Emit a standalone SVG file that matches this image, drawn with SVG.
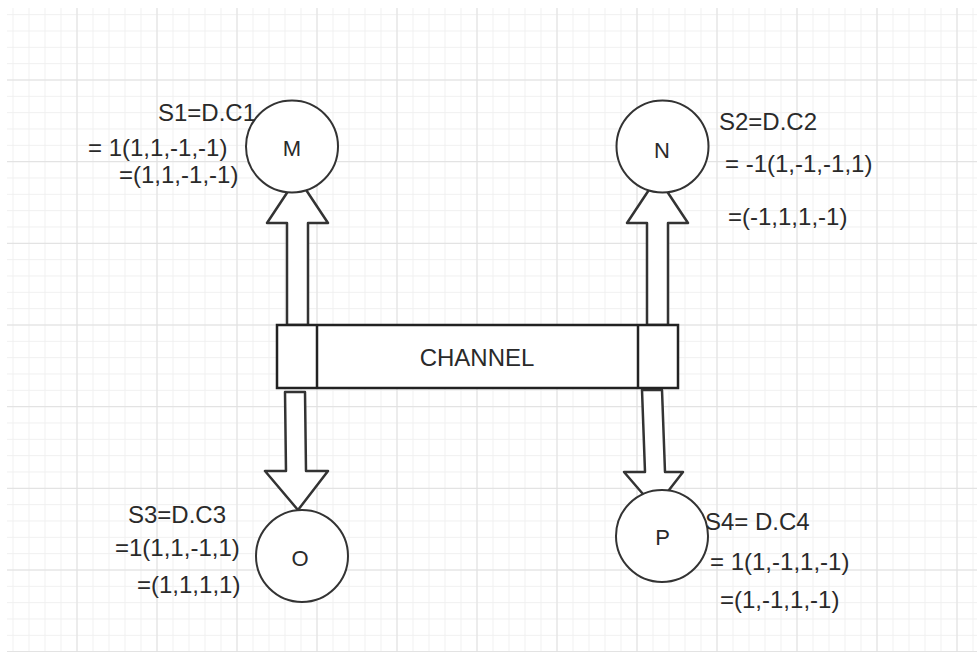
<svg xmlns="http://www.w3.org/2000/svg" width="977" height="656" viewBox="0 0 977 656">
<style>
.node{fill:#fff;stroke:#333;stroke-width:2}
.arrow{fill:#fff;stroke:#333;stroke-width:2.5;stroke-linejoin:round}
.ch{fill:#fff;stroke:#222;stroke-width:2.5}
.lbl{font-family:"Liberation Sans",Arial,sans-serif;font-size:24px;fill:#2a2a2a}
.nl{font-family:"Liberation Sans",Arial,sans-serif;font-size:22px;fill:#2a2a2a;text-anchor:middle;dominant-baseline:central}
</style>
<defs>
<pattern id="minor" x="76.5" y="79.5" width="16" height="16.333" patternUnits="userSpaceOnUse">
<path d="M0.5 0V16.333M0 0.5H16" stroke="#f0f0f0" stroke-width="1" fill="none"/>
</pattern>
<pattern id="major" x="76.5" y="79.5" width="80" height="81.667" patternUnits="userSpaceOnUse">
<path d="M0.5 0V81.667M0 0.5H80" stroke="#e0e0e0" stroke-width="1" fill="none"/>
</pattern>
</defs>
<rect width="977" height="656" fill="#fff"/>
<g id="grid">
<rect x="7" y="8" width="970" height="644" fill="url(#minor)"/>
<rect x="7" y="8" width="970" height="644" fill="url(#major)"/>
</g>
<g id="connectors">
<polygon class="arrow" points="287,325 287,223 267,223 297.5,177 328,223 308,223 308,325"/>
<polygon class="arrow" points="647,325 647,223 627,223 657.5,177 688,223 668,223 668,325"/>
<polygon class="arrow" points="285,392 305,392 306,471 328,471 298,510 265,471 286,471"/>
<polygon class="arrow" points="642,390 662,390 665,472 683,472 655,508 624,472 645,472"/>
</g>
<g id="channel">
<rect class="ch" x="277" y="325" width="401" height="63"/>
<line class="ch" x1="317" y1="325" x2="317" y2="388"/>
<line class="ch" x1="638" y1="325" x2="638" y2="388"/>
<text x="477" y="366" font-family="Liberation Sans,Arial,sans-serif" font-size="24" fill="#2a2a2a" text-anchor="middle">CHANNEL</text>
</g>
<g id="node-M">
<circle class="node" cx="292" cy="146.5" r="46"/>
<text class="nl" x="292" y="148">M</text>
</g>
<g id="node-N">
<circle class="node" cx="662.5" cy="146.5" r="46"/>
<text class="nl" x="662" y="150">N</text>
</g>
<g id="node-O">
<circle class="node" cx="302" cy="556" r="46"/>
<text class="nl" x="300" y="558">O</text>
</g>
<g id="node-P">
<circle class="node" cx="662" cy="536" r="46"/>
<text class="nl" x="662.5" y="537">P</text>
</g>
<g id="labels">
<text class="lbl" x="158" y="121">S1=D.C1</text>
<text class="lbl" x="88" y="156">= 1(1,1,-1,-1)</text>
<text class="lbl" x="119" y="183">=(1,1,-1,-1)</text>
<text class="lbl" x="719" y="130">S2=D.C2</text>
<text class="lbl" x="725" y="172">= -1(1,-1,-1,1)</text>
<text class="lbl" x="728" y="225">=(-1,1,1,-1)</text>
<text class="lbl" x="128" y="523">S3=D.C3</text>
<text class="lbl" x="115" y="556">=1(1,1,-1,1)</text>
<text class="lbl" x="137" y="593">=(1,1,1,1)</text>
<text class="lbl" x="705" y="530">S4= D.C4</text>
<text class="lbl" x="710" y="570">= 1(1,-1,1,-1)</text>
<text class="lbl" x="720" y="608">=(1,-1,1,-1)</text>
</g>
</svg>
